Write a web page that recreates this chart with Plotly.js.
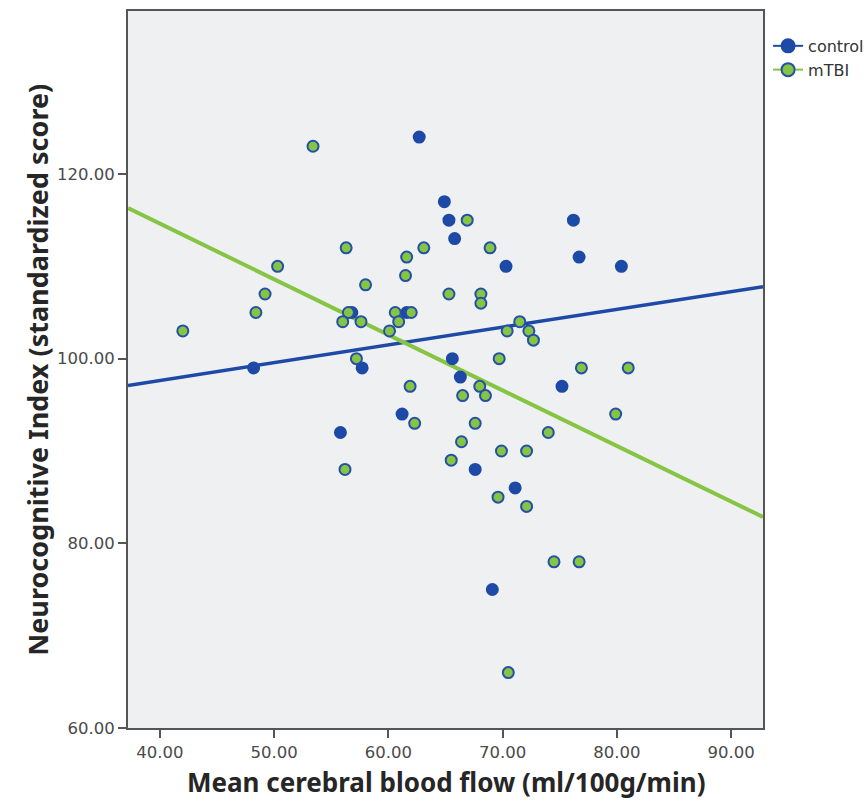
<!DOCTYPE html>
<html>
<head>
<meta charset="utf-8">
<script src="https://cdn.plot.ly/plotly-3.0.1.min.js"></script>
<style>html,body{margin:0;padding:0;background:#fff;}#chart{width:865px;height:802px;}</style>
</head>
<body>
<div id="chart"></div>
<script>
// control group (blue)
const controlX = [62.7, 64.9, 65.3, 65.8, 70.3, 76.2, 76.7, 80.4, 56.8, 61.6, 48.2, 57.7, 61.2, 55.8, 65.6, 66.3, 75.2, 67.6, 71.1, 69.1];
const controlY = [124, 117, 115, 113, 110, 115, 111, 110, 105, 105, 99, 99, 94, 92, 100, 98, 97, 88, 86, 75];
// mTBI group (green)
const mtbiX = [42.0, 53.4, 50.3, 49.2, 48.4, 56.3, 58.0, 61.6, 63.1, 61.5, 56.5, 56.0, 57.6, 60.6, 62.0, 60.9, 60.1, 57.2, 61.9, 62.3, 56.2, 66.9, 68.9, 65.3, 68.1, 68.1, 71.5, 70.4, 72.3, 72.7, 69.7, 76.9, 81.0, 68.0, 66.5, 68.5, 79.9, 67.6, 74.0, 66.4, 69.9, 72.1, 65.5, 69.6, 72.1, 74.5, 76.7, 70.5];
const mtbiY = [103, 123, 110, 107, 105, 112, 108, 111, 112, 109, 105, 104, 104, 105, 105, 104, 103, 100, 97, 93, 88, 115, 112, 107, 107, 106, 104, 103, 103, 102, 100, 99, 99, 97, 96, 96, 94, 93, 92, 91, 90, 90, 89, 85, 84, 78, 78, 66];
// fit lines (at axis edges)
const fitX = [37.2, 92.8];
const controlFitY = [97.1, 107.8];
const mtbiFitY = [116.3, 82.85];
// axes
const xTicks = [40, 50, 60, 70, 80, 90];
const yTicks = [60, 80, 100, 120];
const xRange = [37.2, 92.8];
const yRange = [60, 137.65];
const groupNames = ['control', 'mTBI'];
const xTitle = 'Mean cerebral blood flow (ml/100g/min)';
const yTitle = 'Neurocognitive Index (standardized score)';

const BLUE = '#1d4aa6';
const GREEN = '#86c443';
const OUTLINE = '#2450a8';

const traces = [
  {x: fitX, y: controlFitY, mode: 'lines', showlegend: false,
   line: {color: BLUE, width: 3.5}, hoverinfo: 'skip'},
  {x: fitX, y: mtbiFitY, mode: 'lines', showlegend: false,
   line: {color: GREEN, width: 4}, hoverinfo: 'skip'},
  {x: controlX, y: controlY, mode: 'markers', name: groupNames[0], showlegend: false,
   marker: {size: 11, color: BLUE, line: {color: BLUE, width: 2}}},
  {x: mtbiX, y: mtbiY, mode: 'markers', name: groupNames[1], showlegend: false,
   marker: {size: 11, color: GREEN, line: {color: OUTLINE, width: 2}}},
  // legend entries (no data drawn)
  {x: [null], y: [null], mode: 'lines+markers', name: groupNames[0],
   line: {color: BLUE, width: 2}, marker: {size: 13, color: BLUE, line: {color: BLUE, width: 2}}},
  {x: [null], y: [null], mode: 'lines+markers', name: groupNames[1],
   line: {color: GREEN, width: 2}, marker: {size: 13, color: GREEN, line: {color: OUTLINE, width: 2}}}
];

const axisCommon = {
  showline: true, mirror: true, linecolor: '#555', linewidth: 2,
  ticks: 'outside', ticklen: 8, tickwidth: 2, tickcolor: '#555',
  showgrid: false, zeroline: false,
  tickfont: {family: 'DejaVu Sans', size: 16.5, color: '#4a4a4a'},
  tickformat: '.2f'
};

const titleFont = {family: 'Noto Sans', size: 26, color: '#262626', weight: 'bold'};

const layout = {
  width: 865, height: 802,
  margin: {l: 128, r: 102, t: 11, b: 74, autoexpand: false},
  paper_bgcolor: '#ffffff',
  plot_bgcolor: '#eff0f2',
  showlegend: true,
  legend: {x: 1.008, xanchor: 'left', y: 0.975, yanchor: 'top', bgcolor: 'rgba(0,0,0,0)',
           font: {family: 'DejaVu Sans', size: 16, color: '#333'}, tracegroupgap: 0},
  xaxis: Object.assign({}, axisCommon, {range: xRange, tickvals: xTicks}),
  yaxis: Object.assign({}, axisCommon, {range: yRange, tickvals: yTicks}),
  annotations: [
    {text: xTitle, xref: 'paper', yref: 'paper', x: 0.5, y: -0.076, xanchor: 'center', yanchor: 'middle',
     showarrow: false, font: titleFont},
    {text: yTitle, xref: 'paper', yref: 'paper', x: -0.143, y: 0.5, xanchor: 'center', yanchor: 'middle',
     textangle: -90, showarrow: false, font: Object.assign({}, titleFont, {size: 27})}
  ]
};

Plotly.newPlot('chart', traces, layout, {displayModeBar: false, staticPlot: true});
</script>
</body>
</html>
